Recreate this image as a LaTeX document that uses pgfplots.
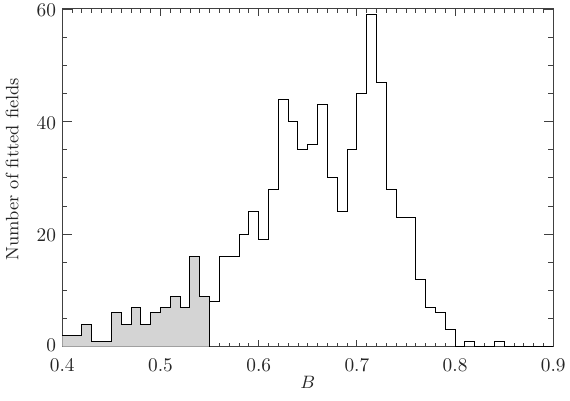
\documentclass[border=0pt]{standalone}
\usepackage{pgfplots}
\pgfplotsset{compat=1.18}
\begin{document}
\begin{tikzpicture}
\useasboundingbox (-31.15bp,-27.15bp) rectangle (253.85bp,173.35bp);
\begin{axis}[
  at={(0,0)}, anchor=south west,
  scale only axis,
  width=245.5bp, height=168.85bp,
  xmin=0.4, xmax=0.9, ymin=0, ymax=60,
  xtick={0.4,0.5,0.6,0.7,0.8,0.9},
  xticklabels={0.4,0.5,0.6,0.7,0.8,0.9},
  minor x tick num=9,
  ytick={0,20,40,60},
  yticklabels={\raisebox{2.85bp}{0},20,40,\raisebox{-3bp}{60}},
  minor y tick num=3,
  tick align=inside,
  xtick pos=both, ytick pos=both,
  axis line style={line width=0.5bp, black!75},
  every tick/.style={line width=0.45bp, black!75},
  xtick style={/pgfplots/major tick length=3.5bp, /pgfplots/minor tick length=1.8bp},
  ytick style={/pgfplots/major tick length=4.7bp, /pgfplots/minor tick length=2.5bp},
  tick label style={font=\fontsize{9.7}{11}\selectfont, black!85},
  xticklabel style={yshift=-2.2bp},
  yticklabel style={xshift=0.4bp, yshift=-0.7bp},
  xlabel={$B$},
  xlabel style={at={(axis description cs:0.5,0)}, anchor=center, yshift=-17.9bp, font=\fontsize{8.8}{11}\selectfont, black!85},
  ylabel={Number of fitted fields},
  ylabel style={at={(axis description cs:0,0.526)}, anchor=base, yshift=22bp, font=\fontsize{9}{11}\selectfont, black!85},
  clip=false,
]
% shaded part of the distribution (B < 0.55)
\addplot[const plot, fill=black!17, draw=none] coordinates {
(0.40,2) (0.41,2) (0.42,4) (0.43,1) (0.44,1) (0.45,6) (0.46,4) (0.47,7)
(0.48,4) (0.49,6) (0.50,7) (0.51,9) (0.52,7) (0.53,16) (0.54,9) (0.55,9)
} \closedcycle;
% edge of the shaded region at B = 0.55
\addplot[draw=black, line width=0.5bp] coordinates {(0.55,0) (0.55,9)};
% full histogram outline
\addplot[const plot, draw=black, line width=0.5bp] coordinates {
(0.40,2) (0.41,2) (0.42,4) (0.43,1) (0.44,1) (0.45,6) (0.46,4) (0.47,7)
(0.48,4) (0.49,6) (0.50,7) (0.51,9) (0.52,7) (0.53,16) (0.54,9) (0.55,8)
(0.56,16) (0.57,16) (0.58,20) (0.59,24) (0.60,19) (0.61,28) (0.62,44) (0.63,40)
(0.64,35) (0.65,36) (0.66,43) (0.67,30) (0.68,24) (0.69,35) (0.70,45) (0.71,59)
(0.72,47) (0.73,28) (0.74,23) (0.75,23) (0.76,12) (0.77,7) (0.78,6) (0.79,3)
(0.80,0) (0.81,1) (0.82,0) (0.83,0) (0.84,1) (0.85,0) (0.86,0) (0.87,0)
(0.88,0) (0.89,0) (0.90,0)
};
\end{axis}
\end{tikzpicture}
\end{document}
